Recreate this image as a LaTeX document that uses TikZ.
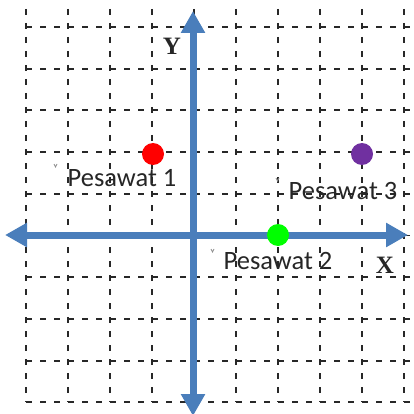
\documentclass[tikz,border=0pt]{standalone}
\usepackage{fontspec}
\setmainfont{Carlito}
\newfontfamily\axfont{Liberation Serif}
\usetikzlibrary{arrows.meta}
\definecolor{axblue}{RGB}{74,126,187}
\definecolor{ptpurple}{RGB}{112,48,160}
\definecolor{gridgray}{RGB}{40,40,40}
\tikzset{
  gridline/.style={draw=gridgray,line width=1.8pt,dash pattern=on 6pt off 8pt},
  axisline/.style={draw=axblue,line width=7pt,-{Triangle[width=23pt,length=22pt]}},
  dot/.style={circle,inner sep=0pt,minimum size=22pt},
  plabel/.style={inner sep=0pt,text=black!85,font=\fontsize{26.5}{30}\selectfont},
  axlabel/.style={inner sep=0pt,text=black!85,font=\axfont\bfseries\fontsize{25}{28}\selectfont},
  tick/.style={draw=black!45,line width=0.8pt}
}
\begin{document}
\begin{tikzpicture}[x=1pt,y=-1pt]
\useasboundingbox (0,0) rectangle (414,414);
% grid
\foreach \gx in {26,68,110,152,194,236,278,320,362,404}
  \draw[gridline] (\gx,9) -- (\gx,402);
\foreach \gy in {27,68.7,110.4,152.1,193.8,235.5,277.2,318.9,360.6,402.3}
  \draw[gridline] (26,\gy) -- (414,\gy);
% axes
\coordinate (xl) at (5,235);
\coordinate (xr) at (408,235);
\coordinate (yb) at (193,416);
\coordinate (yt) at (193,11);
\coordinate (o) at (193,235);
\draw[axisline] (o) -- (xr);
\draw[axisline] (o) -- (xl);
\draw[axisline] (o) -- (yt);
\draw[axisline] (o) -- (yb);
% points
\node[dot,fill=red] (p1) at (153,154) {};
\node[dot,fill=green] (p2) at (278,235) {};
\node[dot,fill=ptpurple] (p3) at (362,154) {};
% labels
\node[plabel] (l1) at (122,178) {Pesawat 1};
\node[plabel] (l2) at (278,261) {Pesawat 2};
\node[plabel] (l3) at (343,191) {Pesawat 3};
\node[axlabel] (ly) at (172,46) {Y};
\node[axlabel] (lx) at (385,265) {X};
% tiny marks
\draw[tick] (54,164) -- (55.5,167) -- (57,164);
\draw[tick] (211,249) -- (212.5,252) -- (214,249);
\draw[tick] (276,178) -- (277.5,181) -- (279,178);
\end{tikzpicture}
\end{document}
